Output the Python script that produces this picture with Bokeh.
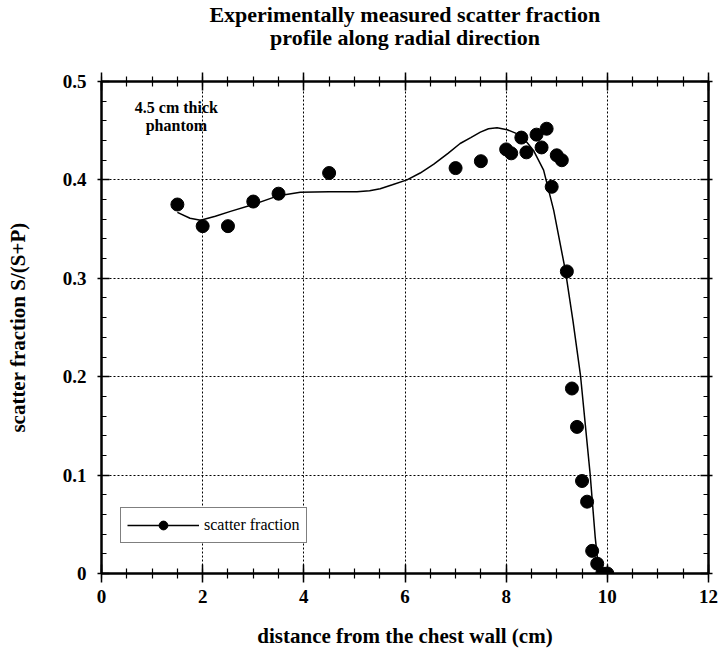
from bokeh.plotting import figure
from bokeh.models import Range1d, LinearAxis, FixedTicker, Label, Legend, LegendItem, Title
from bokeh.embed import file_html
from bokeh.resources import INLINE

# measured scatter fraction points
meas_x = [1.5, 2.0, 2.5, 3.0, 3.5, 4.5, 7.0, 7.5, 8.0, 8.1, 8.3, 8.4, 8.6, 8.7, 8.8,
          9.0, 9.1, 8.9, 9.2, 9.3, 9.4, 9.5, 9.6, 9.7, 9.8, 9.9, 10.0]
meas_y = [0.375, 0.353, 0.353, 0.378, 0.386, 0.407, 0.412, 0.419, 0.431, 0.427, 0.443,
          0.428, 0.446, 0.433, 0.452, 0.425, 0.420, 0.393, 0.307, 0.188, 0.149, 0.094,
          0.073, 0.023, 0.010, 0.0, 0.0]

# smooth fitted curve
curve_x = [1.5, 1.75, 1.96, 2.25, 2.55, 3.0, 3.5, 3.93, 4.5, 5.05, 5.3, 5.51, 5.75,
           6.04, 6.3, 6.57, 6.85, 7.09, 7.3, 7.49, 7.65, 7.82, 8.02, 8.21, 8.38,
           8.54, 8.74, 8.94, 9.17, 9.32, 9.47, 9.66, 9.76, 9.83, 9.85]
curve_y = [0.367, 0.361, 0.359, 0.363, 0.368, 0.375, 0.384, 0.3875, 0.388, 0.388,
           0.389, 0.391, 0.395, 0.400, 0.407, 0.416, 0.427, 0.437, 0.443, 0.4485,
           0.452, 0.453, 0.451, 0.447, 0.440, 0.430, 0.410, 0.369, 0.308, 0.257,
           0.201, 0.101, 0.037, 0.003, 0.0]

x_ticks = [0, 2, 4, 6, 8, 10, 12]
x_minor = [0.5 * i for i in range(25)]
y_ticks = [0, 0.1, 0.2, 0.3, 0.4, 0.5]
y_tick_labels = ["0", "0.1", "0.2", "0.3", "0.4", "0.5"]
y_minor = [0.02 * i for i in range(26)]

title_lines = ["Experimentally measured scatter fraction", "profile along radial direction"]
x_label = "distance from the chest wall (cm)"
y_label = "scatter fraction S/(S+P)"
note_lines = ["4.5 cm thick", "phantom"]
series_name = "scatter fraction"

SERIF = "Liberation Serif"

p = figure(width=723, height=651, output_backend="svg", toolbar_location=None,
           x_range=Range1d(0, 12), y_range=Range1d(0, 0.5),
           min_border_left=101, min_border_right=15, min_border_top=81, min_border_bottom=78,
           x_axis_location="below", y_axis_location="left")
p.background_fill_color = "white"
p.border_fill_color = "white"
p.outline_line_color = "black"
p.outline_line_width = 2

xt = FixedTicker(ticks=x_ticks, minor_ticks=x_minor)
yt = FixedTicker(ticks=y_ticks, minor_ticks=y_minor)

def style_axis(ax, mi, mo, ni, no):
    ax.axis_line_width = 2
    ax.axis_line_color = "black"
    ax.major_tick_line_width = 1.5
    ax.minor_tick_line_width = 1.2
    ax.major_tick_in = mi
    ax.major_tick_out = mo
    ax.minor_tick_in = ni
    ax.minor_tick_out = no
    ax.major_label_text_font = SERIF
    ax.major_label_text_font_style = "bold"
    ax.major_label_text_font_size = "19px"
    ax.major_label_text_color = "black"
    ax.axis_label_text_font = SERIF
    ax.axis_label_text_font_style = "bold"
    ax.axis_label_text_color = "black"

xa = p.xaxis[0]
xa.ticker = xt
style_axis(xa, 9, 9, 5, 5)
xa.major_label_standoff = 7
xa.axis_label = x_label
xa.axis_label_text_font_size = "21px"
xa.axis_label_standoff = 18

ya = p.yaxis[0]
ya.ticker = yt
style_axis(ya, 8, 4, 5, 0)
ya.major_label_standoff = 11
ya.major_label_overrides = {v: s for v, s in zip(y_ticks, y_tick_labels)}
ya.axis_label = y_label
ya.axis_label_text_font_size = "21px"
ya.axis_label_standoff = 30

top = LinearAxis(ticker=xt)
style_axis(top, 9, 9, 5, 5)
top.major_label_standoff = 0
top.major_label_overrides = {v: "" for v in x_ticks}
p.add_layout(top, "above")

# invisible spacer between the top axis and the title lines
spacer = LinearAxis(ticker=FixedTicker(ticks=x_ticks, minor_ticks=[]))
spacer.axis_line_color = None
spacer.major_tick_line_color = None
spacer.minor_tick_line_color = None
spacer.major_tick_in = 0
spacer.major_tick_out = 3
spacer.minor_tick_out = 0
spacer.major_label_standoff = 0
spacer.major_label_overrides = {v: "" for v in x_ticks}
p.add_layout(spacer, "above")

right = LinearAxis(ticker=yt)
style_axis(right, 8, 4, 5, 0)
right.major_label_overrides = {v: "" for v in y_ticks}
p.add_layout(right, "right")

for g in (p.xgrid[0], p.ygrid[0]):
    g.grid_line_color = "black"
    g.grid_line_dash = "2 2"
    g.grid_line_width = 1
p.xgrid[0].ticker = xt
p.ygrid[0].ticker = yt

line_r = p.line(curve_x, curve_y, line_color="black", line_width=1.5)
pts_r = p.scatter(meas_x, meas_y, size=13, marker="circle", fill_color="black", line_color="black")

legend = Legend(items=[LegendItem(label=series_name, renderers=[line_r, pts_r])],
                location=(19, 30), border_line_color="black", border_line_width=1.5,
                background_fill_color="white", background_fill_alpha=1.0,
                label_text_font=SERIF, label_text_font_size="16px", label_text_color="black",
                glyph_width=72, glyph_height=22, padding=6, label_standoff=5, margin=0)
p.add_layout(legend, "center")

# title: second line nearest the plot, first line above it
t2 = Title(text=title_lines[1], text_font=SERIF, text_font_size="22px", text_font_style="bold",
           text_color="black", align="center", standoff=40, offset=6)
p.add_layout(t2, "above")
t1 = Title(text=title_lines[0], text_font=SERIF, text_font_size="22px", text_font_style="bold",
           text_color="black", align="center", standoff=-49, offset=6)
p.add_layout(t1, "above")

for txt, yy in zip(note_lines, [0.4736, 0.455]):
    p.add_layout(Label(x=1.48, y=yy, text=txt, text_font=SERIF, text_font_size="16px",
                       text_font_style="bold", text_color="black",
                       text_align="center", text_baseline="middle"))

open("out.html", "w").write(file_html(p, INLINE))
